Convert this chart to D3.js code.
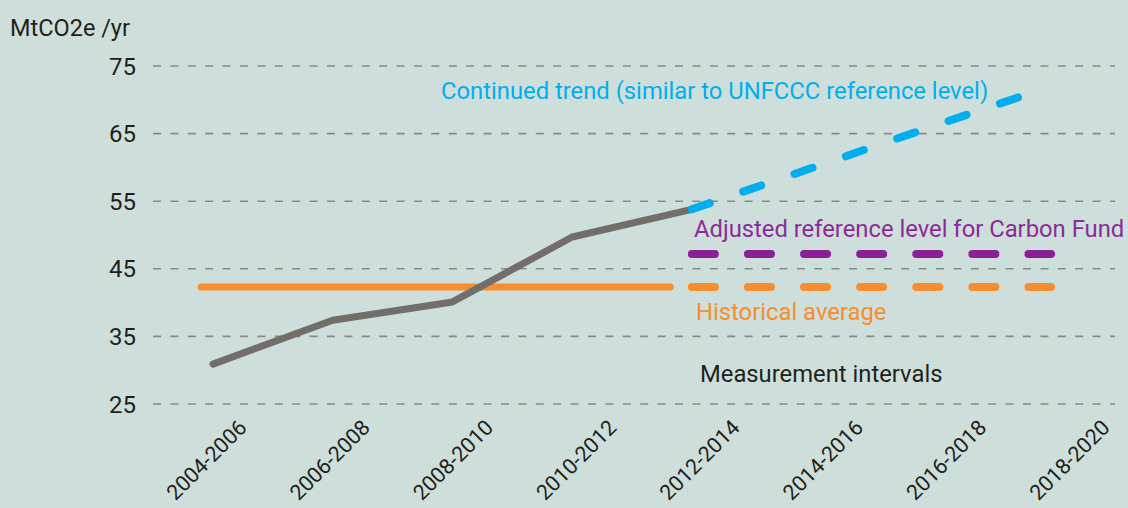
<!DOCTYPE html>
<html>
<head>
<meta charset="utf-8">
<script src="https://cdn.jsdelivr.net/npm/d3@7"></script>
<style>
  html, body { margin: 0; padding: 0; background: #cedfdb; }
  svg { display: block; font-family: Roboto, "Noto Sans", sans-serif; }
  .tick-label { font-size: 24px; fill: #231f20; }
  .x-label { font-size: 21.5px; fill: #231f20; }
  .note { font-size: 23.8px; }
</style>
</head>
<body>
<div id="chart"></div>
<script>
// Periods on the x axis
const categories = ["2004-2006", "2006-2008", "2008-2010", "2010-2012",
                    "2012-2014", "2014-2016", "2016-2018", "2018-2020"];
const yTicks = [25, 35, 45, 55, 65, 75];

// Measured emissions (MtCO2e/yr), first five periods
const measured = [30.9, 37.4, 40.1, 49.7, 53.8];
// Continued trend, from 2012-2014 on
const trend = [53.8, 59.9, 66.0, 72.0];
// Adjusted reference level for Carbon Fund, 2012-2014 .. 2018-2020
const adjusted = [47.2, 47.2];
// Historical average: solid over the reference period, dashed after
const histAvg = 42.3;
const histSolidSpan = [-0.1, 3.82];   // in period-index units
const histDashSpan = [4, 7];

const W = 1128, H = 508;

const svg = d3.select("#chart").append("svg")
  .attr("width", W)
  .attr("height", H);

const y = d3.scaleLinear().domain([25, 75]).range([404, 66]);
const x = d3.scaleLinear().domain([0, 7]).range([213, 1051]);
const xLab = d3.scaleLinear().domain([0, 7]).range([248, 1111]);

// Grid
svg.append("g").selectAll("line")
  .data(yTicks)
  .join("line")
  .attr("x1", 153).attr("x2", 1115)
  .attr("y1", d => y(d)).attr("y2", d => y(d))
  .attr("stroke", "#868987")
  .attr("stroke-width", 1.6)
  .attr("stroke-dasharray", "8 9.4");

// Y tick labels
svg.append("g").selectAll("text")
  .data(yTicks)
  .join("text")
  .attr("class", "tick-label")
  .attr("x", 136)
  .attr("y", d => y(d))
  .attr("dy", "0.36em")
  .attr("text-anchor", "end")
  .text(d => d);

// Unit
svg.append("text")
  .attr("x", 10).attr("y", 36)
  .attr("font-size", 23.5)
  .attr("fill", "#231f20")
  .text("MtCO2e /yr");

// X labels
svg.append("g").selectAll("text")
  .data(categories)
  .join("text")
  .attr("class", "x-label")
  .attr("text-anchor", "end")
  .attr("transform", (d, i) => `translate(${xLab(i)},429) rotate(-45)`)
  .text(d => d);

const line = d3.line().x(d => x(d[0])).y(d => y(d[1]));

// Historical average
svg.append("path")
  .attr("d", line(histSolidSpan.map(i => [i, histAvg])))
  .attr("fill", "none").attr("stroke", "#f68d2e")
  .attr("stroke-width", 7).attr("stroke-linecap", "round");
svg.append("path")
  .attr("d", line(histDashSpan.map(i => [i, histAvg])))
  .attr("fill", "none").attr("stroke", "#f68d2e")
  .attr("stroke-width", 8).attr("stroke-linecap", "round")
  .attr("stroke-dasharray", "23 33.1");

// Adjusted reference level
svg.append("path")
  .attr("d", line(adjusted.map((v, i) => [histDashSpan[i], v])))
  .attr("fill", "none").attr("stroke", "#8a1f96")
  .attr("stroke-width", 8).attr("stroke-linecap", "round")
  .attr("stroke-dasharray", "23 33.1");

// Measured
svg.append("path")
  .attr("d", line(measured.map((v, i) => [i, v])))
  .attr("fill", "none").attr("stroke", "#736e6c")
  .attr("stroke-width", 7).attr("stroke-linecap", "round")
  .attr("stroke-linejoin", "round");

// Continued trend
svg.append("path")
  .attr("d", line(trend.map((v, i) => [i + 4, v])))
  .attr("fill", "none").attr("stroke", "#00aeef")
  .attr("stroke-width", 8).attr("stroke-linecap", "round")
  .attr("stroke-dasharray", "19 35.3");

// Annotations
const notes = [
  { text: "Continued trend (similar to UNFCCC reference level)", x: 441, y: 99, color: "#00aeef" },
  { text: "Adjusted reference level for Carbon Fund", x: 694, y: 237, color: "#8b2a98" },
  { text: "Historical average", x: 696, y: 320, color: "#f68d2e" },
  { text: "Measurement intervals", x: 700, y: 382, color: "#231f20" }
];
svg.append("g").selectAll("text")
  .data(notes)
  .join("text")
  .attr("class", "note")
  .attr("x", d => d.x).attr("y", d => d.y)
  .attr("fill", d => d.color)
  .text(d => d.text);
</script>
</body>
</html>
